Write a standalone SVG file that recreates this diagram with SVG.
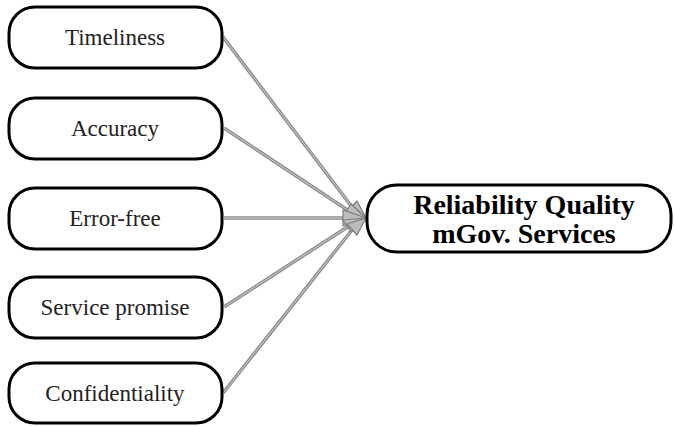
<svg xmlns="http://www.w3.org/2000/svg" width="674" height="426" viewBox="0 0 674 426">
<style>
.box{fill:#fff;stroke:#000;stroke-width:3}
.lbl{font-family:"Liberation Serif","Times New Roman",serif;font-size:23px;fill:#222;text-anchor:middle}
.big{font-family:"Liberation Serif","Times New Roman",serif;font-size:28px;font-weight:bold;fill:#000;text-anchor:middle}
.out{stroke:#8c8c8c;stroke-width:3.5;fill:none}
.in{stroke:#d0d0d0;stroke-width:1;fill:none}
.head{fill:#bdbdbd;stroke:#7d7d7d;stroke-width:1.2;stroke-linejoin:round}
</style>
<rect width="674" height="426" fill="#fff"/>
<g id="connectors">
<path class="out" d="M223,37 L352,207"/><path class="in" d="M223,37 L352,207"/>
<path class="out" d="M224,128 L349,211"/><path class="in" d="M224,128 L349,211"/>
<path class="out" d="M224,218 L346,218"/><path class="in" d="M224,218 L346,218"/>
<path class="out" d="M224,307 L349,226"/><path class="in" d="M224,307 L349,226"/>
<path class="out" d="M223,393 L352,230"/><path class="in" d="M223,393 L352,230"/>
<polygon class="head" points="366,218 347,212 357,201"/>
<polygon class="head" points="366,218 343,216 351,204"/>
<polygon class="head" points="366,218 343,210 343,226"/>
<polygon class="head" points="366,218 343,220 351,232"/>
<polygon class="head" points="366,218 347,224 357,235"/>
</g>
<g id="n1"><rect class="box" x="9" y="7" width="213" height="61" rx="26"/><text class="lbl" x="115" y="45">Timeliness</text></g>
<g id="n2"><rect class="box" x="9" y="98" width="213" height="61" rx="26"/><text class="lbl" x="115" y="136">Accuracy</text></g>
<g id="n3"><rect class="box" x="9" y="188" width="213" height="61" rx="26"/><text class="lbl" x="115" y="226">Error-free</text></g>
<g id="n4"><rect class="box" x="9" y="277" width="213" height="61" rx="26"/><text class="lbl" x="115" y="315">Service promise</text></g>
<g id="n5"><rect class="box" x="9" y="363" width="213" height="60" rx="26"/><text class="lbl" x="115" y="401">Confidentiality</text></g>
<g id="target"><rect class="box" x="367" y="185" width="304" height="67" rx="30"/><text class="big" x="524" y="214">Reliability Quality</text><text class="big" x="524" y="243">mGov. Services</text></g>
</svg>
